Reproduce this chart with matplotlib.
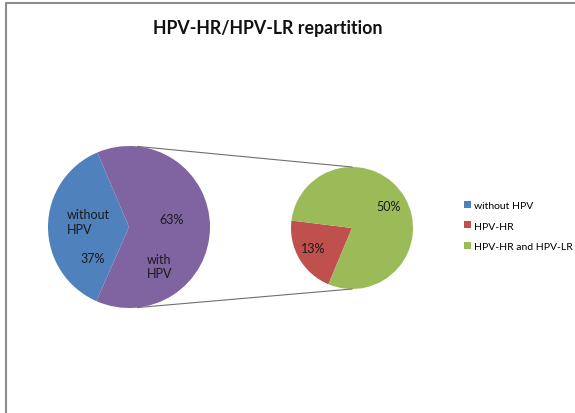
import matplotlib
matplotlib.use("Agg")
import matplotlib.pyplot as plt
import numpy as np

# Data
main_labels = ["without\nHPV", "with\nHPV"]
main_values = [37, 63]
sub_labels = ["HPV-HR", "HPV-HR and HPV-LR"]
sub_values = [13, 50]
legend_labels = ["without HPV", "HPV-HR", "HPV-HR and HPV-LR"]
title = "HPV-HR/HPV-LR repartition"

blue, purple, red, green = "#4F81BD", "#8064A2", "#C0504D", "#9BBB59"

plt.rcParams['font.family'] = ['Lato', 'DejaVu Sans']

W, H = 575, 414
fig = plt.figure(figsize=(W / 100, H / 100), dpi=100)
ax = fig.add_axes([0, 0, 1, 1])

c1, r1 = (129, 186), 81
c2, r2 = (352, 185), 61

w1, _ = ax.pie(main_values, colors=[blue, purple], startangle=113, center=c1,
               radius=r1, wedgeprops=dict(linewidth=0))
w2, _ = ax.pie(sub_values, colors=[red, green], startangle=173, center=c2,
               radius=r2, wedgeprops=dict(linewidth=0))
ax.set_xlim(0, W)
ax.set_ylim(0, H)
ax.set_aspect('equal')
ax.axis('off')

# frame (top and left visible)
ax.plot([6, 6, W + 5], [-5, H - 4, H - 4], color="#8c8c8c", lw=1.5,
        solid_capstyle='butt', clip_on=False)

# connector lines
a = np.deg2rad(84)
for s in (1, -1):
    ax.plot([c1[0] + r1 * np.cos(a), c2[0]], [c1[1] + s * r1 * np.sin(a), c2[1] + s * r2],
            color="#707070", lw=0.8)

fs = 9
tc = "#1a1a1a"
ax.text(67, H - 223, main_labels[0], fontsize=fs, color=tc, ha='left', va='center', linespacing=1.3)
ax.text(80, H - 259, f"{main_values[0]}%", fontsize=fs, color=tc, ha='left', va='center')
ax.text(159, H - 220, f"{main_values[1]}%", fontsize=fs, color=tc, ha='left', va='center')
ax.text(147, H - 267, main_labels[1], fontsize=fs, color=tc, ha='left', va='center', linespacing=1.3)
ax.text(301, H - 249, f"{sub_values[0]}%", fontsize=fs, color=tc, ha='left', va='center')
ax.text(376, H - 207, f"{sub_values[1]}%", fontsize=fs, color=tc, ha='left', va='center')

ax.text(268, H - 28, title, fontsize=12.8, fontweight='bold', ha='center', va='center', color="#111111")

leg = ax.legend([w1[0], w2[0], w2[1]], legend_labels, loc='center left',
                bbox_to_anchor=(455 / W, 1 - 227 / H), frameon=False, fontsize=7.5,
                handlelength=0.65, handleheight=0.65, handletextpad=0.3, labelspacing=1.1)

fig.savefig("out.png", dpi=100)
